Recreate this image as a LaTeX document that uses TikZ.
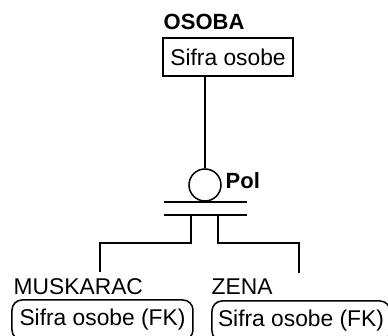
\documentclass[tikz,border=0pt]{standalone}
\usepackage{fontspec}
\setmainfont{Liberation Sans}
\usetikzlibrary{positioning}

\tikzset{
  entbox/.style={draw, line width=0.75pt, minimum width=65pt, minimum height=19pt,
    inner sep=0pt, font=\fontsize{11.4}{13}\selectfont},
  subbox/.style={entbox, rounded corners=5pt},
  entname/.style={anchor=base west, inner sep=0pt, font=\fontsize{11.4}{13}\selectfont},
  boldname/.style={entname, font=\fontsize{11}{13}\selectfont\bfseries},
}

\begin{document}
\begin{tikzpicture}[x=0.5pt, y=-0.5pt, line width=0.75pt]
  % frame: 388 x 336, y grows downwards
  \useasboundingbox (0,0) rectangle (388,336);
  \clip (0,0) rectangle (388,336);
  % supertype
  \node[boldname] (osobaname) at (163,30) {OSOBA};
  \node[entbox] (osoba) at (228,57) {Sifra osobe};
  % category circle and its discriminator
  \node[circle, draw, minimum size=16pt, inner sep=0pt] (pol) at (205,185) {};
  \node[boldname] (polname) at (225,189) {Pol};
  \draw (pol.north) -- (pol.north |- osoba.south);
  % complete category: two bars
  \coordinate (bartw) at (164,202);
  \coordinate (barte) at (247,202);
  \coordinate (barbw) at (164,215);
  \coordinate (barbe) at (247,215);
  \draw (bartw) -- (barte);
  \draw (barbw) -- (barbe);
  % subtypes
  \node[entname] (muskname) at (13,295) {MUSKARAC};
  \node[entname] (zenaname) at (211,295) {ZENA};
  \node[subbox, minimum width=90.5pt, minimum height=20pt] (muskarac) at (102.5,320) {Sifra osobe (FK)};
  \node[subbox, minimum width=89pt, minimum height=20pt] (zena) at (301,321) {Sifra osobe (FK)};
  % legs down to the subtypes
  \coordinate (mfork) at (191,215);
  \coordinate (mend) at (100,272);
  \coordinate (zfork) at (218,215);
  \coordinate (zend) at (299,273);
  \draw (mfork) -- ++(0,28) -| (mend);
  \draw (zfork) -- ++(0,28) -| (zend);
\end{tikzpicture}
\end{document}
